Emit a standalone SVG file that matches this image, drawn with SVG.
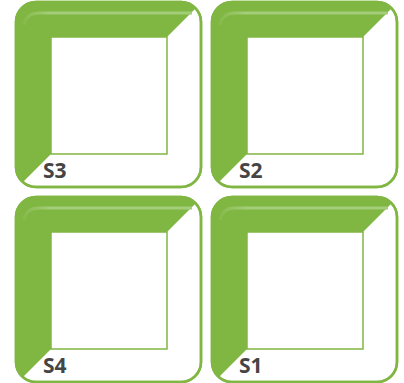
<svg xmlns="http://www.w3.org/2000/svg" width="404" height="383" viewBox="0 0 404 383">
<style>
.frame{fill:#fff;stroke:#80b642;stroke-width:2.5}
.band{fill:#80b642}
.hl{fill:none;stroke:#a3cd78;stroke-width:3;stroke-linecap:round}
.inner{fill:#fff;stroke:#80b642;stroke-width:1.5}
.lbl{font-family:"Open Sans","Liberation Sans",sans-serif;font-weight:bold;font-size:21px;fill:#454545}
</style>
<defs>
<clipPath id="clip"><rect x="0" y="0" width="185" height="185" rx="20"/></clipPath>
<linearGradient id="hg" x1="0" x2="1" y1="0" y2="0">
<stop offset="0" stop-color="#a3cd78" stop-opacity="0.2"/>
<stop offset="0.15" stop-color="#a3cd78" stop-opacity="1"/>
<stop offset="1" stop-color="#a3cd78" stop-opacity="1"/>
</linearGradient>
<g id="tile">
<rect class="frame" x="0" y="0" width="185" height="185" rx="20"/>
<polygon class="band" clip-path="url(#clip)" points="-5,-5 191,-5 151,35 35,35 35,152 -5,192"/>
<path d="M8,23 Q10,11 23,11 L176,11" fill="none" stroke="url(#hg)" stroke-width="3"/>
<rect x="0" y="0" width="185" height="185" rx="20" fill="none" stroke="#80b642" stroke-width="2.5"/>
<rect class="inner" x="35" y="35" width="116" height="117"/>
</g>
</defs>
<g id="S3" transform="translate(16,2)"><use href="#tile"/><text class="lbl" x="27" y="176">S3</text></g>
<g id="S2" transform="translate(212,2)"><use href="#tile"/><text class="lbl" x="27" y="176">S2</text></g>
<g id="S4" transform="translate(16,197)"><use href="#tile"/><text class="lbl" x="27" y="176">S4</text></g>
<g id="S1" transform="translate(212,197)"><use href="#tile"/><text class="lbl" x="27" y="176">S1</text></g>
<g id="connectors"/>
</svg>
